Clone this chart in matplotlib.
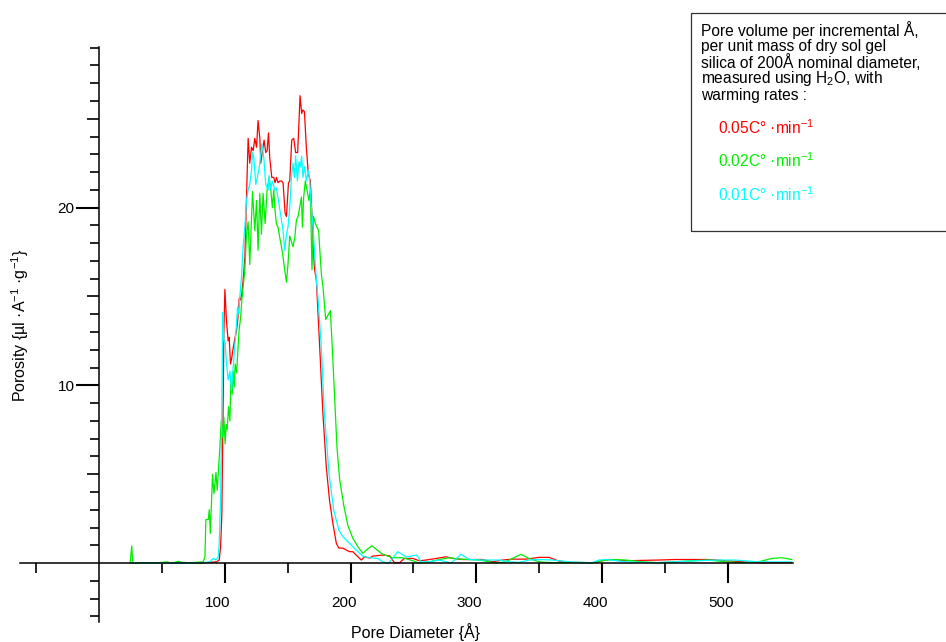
import matplotlib.pyplot as plt
from matplotlib.patches import Rectangle
from matplotlib.ticker import FixedLocator
from matplotlib.transforms import ScaledTranslation

plt.rcParams["font.family"] = ["Liberation Sans", "DejaVu Sans"]
plt.rcParams["mathtext.fontset"] = "custom"
plt.rcParams["mathtext.rm"] = "Liberation Sans"
plt.rcParams["mathtext.it"] = "Liberation Sans:italic"
plt.rcParams["mathtext.bf"] = "Liberation Sans:bold"

# 0.05 C/min warming rate (red)
red_x = [25, 80, 93.4, 95.5, 96.6, 97.6, 98.2, 98.7, 99.2, 100.0, 101.3, 102.6, 103.4,
         104.5, 105.6, 106.6, 107.9, 109.3, 110.1, 110.9, 111.4, 112.5, 113.5, 114.5,
         115.9, 118.5, 119.8, 121.2, 122.5, 123.8, 125.2, 126.4, 127.8, 128.6, 129.9,
         131.2, 132.5, 133.6, 134.7, 135.7, 137.3, 138.9, 139.9, 141.0, 142.3, 143.7,
         145.0, 146.3, 147.9, 149.0, 150.6, 151.6, 153.2, 154.8, 156.3, 157.9, 159.0,
         159.8, 161.1, 162.1, 163.3, 164.8, 166.4, 168.0, 169.6, 171.2, 172.8, 175.4,
         178.0, 180.7, 183.3, 186.0, 188.7, 190.7, 193.9, 196.6, 199.2, 201.8, 204.5,
         208.5, 211.1, 215.1, 217.7, 225.6, 231.0, 234.9, 238.9, 242.9, 249.4, 254.8,
         260.1, 268.0, 276.0, 281.2, 289.1, 297.1, 305.0, 312.9, 320.9, 328.8, 339.4,
         350.0, 357.9, 365.9, 373.8, 392.3, 405.6, 418.8, 445.2, 458.5, 485.0, 498.2,
         524.6, 550.8]
red_y = [0, 0, 0.07, 0.17, 0.92, 2.8, 6.5, 9.3, 13.0, 15.4, 13.6, 12.5, 12.7,
         11.2, 11.6, 12.1, 12.6, 13.1, 13.6, 14.2, 14.9, 14.8, 15.2, 15.9,
         17.2, 23.9, 22.5, 23.4, 23.2, 23.9, 23.4, 24.9, 23.9, 22.5, 23.2,
         23.8, 23.1, 23.2, 24.2, 22.8, 21.7, 21.7, 21.4, 21.7, 21.4, 21.5,
         21.5, 21.4, 19.7, 19.5, 21.4, 21.5, 23.8, 23.9, 23.1, 23.1, 24.9,
         26.3, 25.3, 25.5, 25.4, 23.4, 21.9, 21.5, 19.1, 16.6, 15.9, 12.2,
         8.4, 5.4, 3.5, 2.2, 1.1, 0.84, 0.84, 0.73, 0.64, 0.64, 0.45,
         0.17, 0.35, 0.28, 0.39, 0.45, 0.41, 0.02, 0.02, 0.26, 0.26, 0.13,
         0.17, 0.26, 0.35, 0.26, 0.2, 0.2, 0.2, 0.07, 0.17, 0.22, 0.22,
         0.32, 0.32, 0.11, 0.04, 0.02, 0.2, 0.13, 0.17, 0.2, 0.2, 0.13,
         0.02, 0.02]

# 0.02 C/min warming rate (green)
green_x = [24.6, 25.9, 26.7, 45, 53.7, 58, 63, 68, 82.8, 84.1, 84.9, 86.8, 87.6, 88.4,
           90.2, 91.3, 92.9, 93.9, 94.7, 96.0, 97.1, 98.2, 99.2, 100.2, 101.0, 101.8,
           102.9, 104.0, 104.8, 105.8, 106.6, 107.4, 108.2, 109.3, 110.6, 111.3, 112.5,
           113.5, 114.5, 115.9, 117.2, 118.5, 119.8, 122.0, 123.8, 125.2, 126.4, 127.8,
           129.1, 130.4, 132.0, 133.6, 135.2, 136.5, 137.8, 138.9, 139.7, 141.0, 142.3,
           143.7, 145.0, 146.3, 147.6, 149.0, 150.2, 151.6, 152.9, 154.2, 155.6, 156.9,
           158.2, 159.5, 160.9, 161.7, 162.7, 164.0, 165.3, 166.9, 168.0, 169.3, 170.6,
           172.0, 173.3, 174.6, 175.9, 177.0, 178.0, 180.2, 183.9, 185.4, 187.3, 189.2,
           191.3, 194.7, 197.9, 201.8, 205.8, 209.8, 212.5, 216.9, 225.6, 233.6, 241.5,
           249.4, 254.8, 262.7, 270.6, 278.6, 286.5, 294.4, 302.4, 310.3, 315.6, 323.6,
           328.8, 335.5, 342.1, 350, 360.6, 373.8, 392.3, 400.2, 408.2, 418.8, 432.0,
           445.2, 458.5, 471.7, 485, 498.2, 511.4, 524.6, 535.2, 543.1, 551]
green_y = [0, 0.96, 0, 0, 0.07, 0, 0.1, 0, 0.07, 0.35, 2.45, 2.45, 3.0, 1.67,
           5.0, 3.9, 5.1, 4.1, 5.0, 6.5, 8.0, 7.1, 8.2, 6.7, 7.8, 7.5,
           8.8, 8.0, 10.3, 9.5, 10.8, 9.9, 11.2, 10.7, 12.2, 13.1, 13.8,
           14.8, 15.5, 16.5, 18.5, 19.2, 16.8, 20.9, 18.7, 20.4, 17.6, 20.8,
           18.5, 20.8, 19.1, 21.0, 21.7, 21.0, 20.0, 21.0, 20.0, 19.1, 18.9,
           18.3, 17.8, 17.2, 16.5, 15.8, 16.8, 18.4, 18.1, 17.8, 18.3, 19.3,
           19.5, 20.0, 20.6, 18.9, 20.6, 21.5, 21.0, 20.4, 21.0, 16.5, 19.5,
           19.1, 18.9, 18.7, 17.2, 16.1, 15.6, 13.7, 14.2, 12.2, 9.3, 6.5,
           4.7, 3.2, 2.1, 1.4, 0.92, 0.55, 0.73, 0.97, 0.49, 0.3, 0.3,
           0.13, 0, 0.07, 0.2, 0.3, 0.22, 0.2, 0.17, 0.07, 0, 0.07,
           0.26, 0.49, 0.26, 0.07, 0.02, 0.02, 0.02, 0.13, 0.2, 0.17, 0.07,
           0.02, 0.07, 0.13, 0.17, 0.07, 0.02, 0.07, 0.26, 0.3, 0.2]

# 0.01 C/min warming rate (cyan)
cyan_x = [25, 80, 88.1, 90.7, 92.9, 94.7, 95.5, 96.6, 97.4, 97.9, 98.2, 99.2, 100.2,
          101.3, 102.6, 104.0, 105.3, 106.6, 107.9, 109.3, 110.1, 111.1, 111.9, 113.3,
          114.5, 115.9, 117.2, 118.5, 119.8, 121.2, 122.0, 123.0, 124.6, 126.4, 127.8,
          129.4, 131.0, 132.5, 134.4, 135.2, 136.3, 137.8, 139.7, 141.0, 142.6, 145.0,
          146.3, 147.6, 149.0, 150.2, 151.6, 152.9, 154.2, 155.3, 156.3, 157.7, 159.0,
          160.1, 161.1, 162.1, 163.5, 164.8, 166.4, 167.5, 168.8, 170.1, 171.4, 172.8,
          174.0, 176.7, 179.2, 182.9, 186.5, 190.7, 193.9, 197.9, 201.8, 205.8, 209.8,
          215.1, 221.7, 225.6, 230.4, 237.5, 244.2, 248.2, 252.6, 256.1, 262.7, 270.6,
          280, 287.9, 294.4, 302.4, 310.3, 318.3, 326.2, 334.1, 342.1, 350, 360.6,
          373.8, 392.3, 397.6, 402.9, 418.8, 440, 458.5, 476.2, 492, 505.3, 524.6, 551]
cyan_y = [0, 0, 0.07, 0.26, 0.17, 0.35, 1.1, 3.7, 7.5, 11.2, 14.1, 12.5, 12.4,
          11.2, 10.3, 10.8, 9.7, 11.0, 12.2, 13.5, 14.4, 14.0, 15.0, 16.2,
          17.8, 18.9, 20.4, 21.0, 21.3, 22.1, 23.1, 22.8, 21.3, 21.9, 22.5,
          23.6, 22.8, 21.3, 21.0, 21.8, 21.0, 21.5, 21.0, 21.1, 20.4, 19.3,
          18.7, 17.6, 18.5, 18.9, 20.0, 21.7, 22.5, 21.7, 22.9, 21.5, 22.6,
          22.3, 22.9, 21.7, 22.3, 21.5, 22.1, 21.5, 20.0, 18.9, 17.4, 15.9,
          15.0, 12.2, 8.4, 5.0, 3.0, 1.85, 1.48, 1.2, 0.92, 0.64, 0.39,
          0.3, 0.26, 0.07, 0, 0.64, 0.35, 0.39, 0.45, 0.07, 0.07, 0.17,
          0, 0.49, 0.2, 0.17, 0.17, 0.17, 0.07, 0.04, 0.17, 0.2, 0.17,
          0.07, 0.02, 0.17, 0.2, 0.07, 0.02, 0.07, 0.13, 0.17, 0.17, 0.07, 0.07]

rate_labels = [r"0.05C° ·min$^{-1}$", r"0.02C° ·min$^{-1}$", r"0.01C° ·min$^{-1}$"]
rate_colors = ["#ff0000", "#00ee00", "#00ffff"]

W, H = 946, 642
fig = plt.figure(figsize=(W / 100, H / 100), dpi=100)
ax = fig.add_axes([20 / W, (H - 621.7) / H, 773 / W, (621.7 - 46.8) / H])

ax.plot(red_x, red_y, color=rate_colors[0], lw=0.9)
ax.plot(green_x, green_y, color=rate_colors[1], lw=0.9)
ax.plot(cyan_x, cyan_y, color=rate_colors[2], lw=0.9)

ax.set_xlim(-63, 552)
ax.set_ylim(-3.3, 29.05)

# axes cross at the origin
for side in ["top", "right"]:
    ax.spines[side].set_visible(False)
ax.spines["left"].set_position(("data", 0))
ax.spines["bottom"].set_position(("data", 0))
ax.spines["left"].set_linewidth(1.1)
ax.spines["bottom"].set_linewidth(1.1)

ax.xaxis.set_major_locator(FixedLocator([100, 200, 300, 400, 500]))
ax.xaxis.set_minor_locator(FixedLocator([-50, 50, 150, 250, 350, 450]))
ax.yaxis.set_major_locator(FixedLocator([10, 20]))
ax.yaxis.set_minor_locator(FixedLocator([v for v in range(-3, 30) if v not in (0, 10, 20)]))

ax.tick_params(axis="x", which="major", direction="out", length=14.4, width=1.5,
               labelsize=11, pad=9)
ax.tick_params(axis="x", which="minor", direction="out", length=7, width=1.2)
ax.tick_params(axis="y", which="major", direction="out", length=16.6, width=1.5,
               labelsize=11, pad=1)
ax.tick_params(axis="y", which="minor", direction="out", length=6.5, width=1.2)

# half-decade ticks a little longer
for t, v in zip(ax.yaxis.get_minor_ticks(), ax.yaxis.get_minorticklocs()):
    if v in (5, 15, 25):
        t.tick1line.set_markersize(8.8)

shift = ScaledTranslation(-7 / 100, 0, fig.dpi_scale_trans)
for lab in ax.get_xticklabels():
    lab.set_transform(lab.get_transform() + shift)

fig.text(415 / W, 1 - 632 / H, "Pore Diameter {Å}", ha="center", va="center", fontsize=11.5)
fig.text(20 / W, 1 - 325 / H, r"Porosity {µl ·A$^{-1}$ ·g$^{-1}$}", rotation=90,
         ha="center", va="center", fontsize=11.5)

# annotation box
fig.patches.append(Rectangle((690.7 / W, 1 - 231 / H), 270 / W, 218.3 / H,
                             transform=fig.transFigure, fill=False, edgecolor="#333333",
                             linewidth=0.9))
box_lines = ["Pore volume per incremental Å,", "per unit mass of dry sol gel",
             "silica of 200Å nominal diameter,", r"measured using H$_2$O, with",
             "warming rates :"]
for i, s in enumerate(box_lines):
    fig.text(701 / W, 1 - (30 + 16.3 * i) / H, s, ha="left", va="center", fontsize=11.2)
for i, (s, c) in enumerate(zip(rate_labels, rate_colors)):
    fig.text(718 / W, 1 - (127.5 + 33.5 * i) / H, s, color=c, ha="left", va="center",
             fontsize=11.2)

fig.savefig("out.png", dpi=100)
